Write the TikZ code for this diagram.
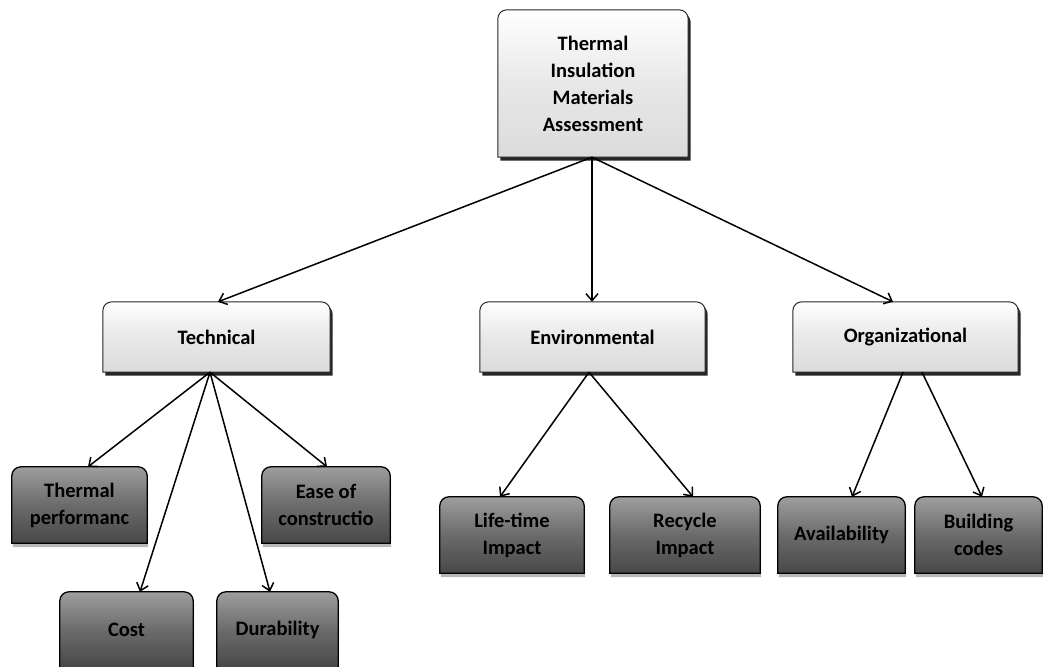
\documentclass[tikz,border=0pt]{standalone}
\usepackage{fontspec}
\setmainfont{Carlito}
\usetikzlibrary{arrows.meta,backgrounds}
\tikzset{
  lbl/.style={font=\fontsize{20.5}{27}\selectfont\bfseries, align=center, inner sep=0pt, anchor=center},
  arr/.style={-{Straight Barb[length=7pt,width=12pt]}, line width=1.5pt, black},
  lightshadow/.style={fill=black!85},
  lightfill/.style={draw=black!85, line width=1pt, top color=white, bottom color=black!14, middle color=black!9},
  darkshadow/.style={fill=black!28},
  darkfill/.style={draw=black, line width=1.3pt, top color=black!38, bottom color=black!72, middle color=black!58}
}
\newcommand\topround[4]{%
  \path[#2] ([shift={(#3,#4)}]#1.south) -- ([shift={(#3,#4)}]#1.south west)
    [rounded corners=9pt] -- ([shift={(#3,#4)}]#1.north west) -- ([shift={(#3,#4)}]#1.north east)
    [sharp corners] -- ([shift={(#3,#4)}]#1.south east) -- cycle;}
\begin{document}
\begin{tikzpicture}[x=1pt,y=-1pt]
\useasboundingbox (0,0) rectangle (1043,666);
% level 0
\node[lbl, minimum width=190pt, minimum height=147pt] (top) at (593,83.5) {Thermal\\Insulation\\Materials\\Assessment};
% level 1
\node[lbl, minimum width=227pt, minimum height=70pt] (tech) at (216.5,337) {Technical};
\node[lbl, minimum width=225pt, minimum height=70pt] (env) at (592.5,337) {Environmental};
\node[lbl, minimum width=225pt, minimum height=70pt] (org) at (905.5,337) {Organizational};
% level 2
\node[lbl, minimum width=135pt, minimum height=76pt] (tp) at (79.5,505) {Thermal\\performanc};
\node[lbl, minimum width=128pt, minimum height=76pt] (eoc) at (326,505) {Ease of\\constructio};
\node[lbl, minimum width=133pt, minimum height=76pt] (cost) at (126.5,630) {Cost};
\node[lbl, minimum width=121pt, minimum height=76pt] (dur) at (277.5,630) {Durability};
\node[lbl, minimum width=144pt, minimum height=76pt] (lti) at (512,535) {Life-time\\Impact};
\node[lbl, minimum width=150pt, minimum height=76pt] (rci) at (685,535) {Recycle\\Impact};
\node[lbl, minimum width=127pt, minimum height=76pt] (avl) at (841.5,535) {Availability};
\node[lbl, minimum width=127pt, minimum height=76pt] (bcd) at (978.5,535) {Building\\codes};
\begin{scope}[on background layer]
  \foreach \n in {top,tech,env,org} {
    \topround{\n}{lightshadow}{2.5pt}{-3.5pt}
    \topround{\n}{lightfill}{0pt}{0pt}
  }
  \foreach \n in {tp,eoc,cost,dur,lti,rci,avl,bcd} {
    \topround{\n}{darkshadow}{1pt}{-4pt}
    \topround{\n}{darkfill}{0pt}{0pt}
  }
\end{scope}
% connectors
\draw[arr] ([xshift=-1pt]top.south) -- ([xshift=1.5pt]tech.north);
\draw[arr] ([xshift=-1pt]top.south) -- ([xshift=-0.5pt]env.north);
\draw[arr] ([xshift=-1pt]top.south) -- ([xshift=-12.5pt]org.north);
\draw[arr] ([xshift=-6.5pt]tech.south) -- ([xshift=8.5pt]tp.north);
\draw[arr] ([xshift=-6.5pt]tech.south) -- ([xshift=13.5pt]cost.north);
\draw[arr] ([xshift=-6.5pt]tech.south) -- ([xshift=-7.5pt]dur.north);
\draw[arr] ([xshift=-6.5pt]tech.south) -- ([xshift=1pt]eoc.north);
\draw[arr] ([xshift=-3.5pt]env.south) -- ([xshift=-12pt]lti.north);
\draw[arr] ([xshift=-3.5pt]env.south) -- ([xshift=8pt]rci.north);
\draw[arr] ([xshift=-2.5pt]org.south) -- ([xshift=10.5pt]avl.north);
\draw[arr] ([xshift=16.5pt]org.south) -- ([xshift=3.5pt]bcd.north);
\end{tikzpicture}
\end{document}
